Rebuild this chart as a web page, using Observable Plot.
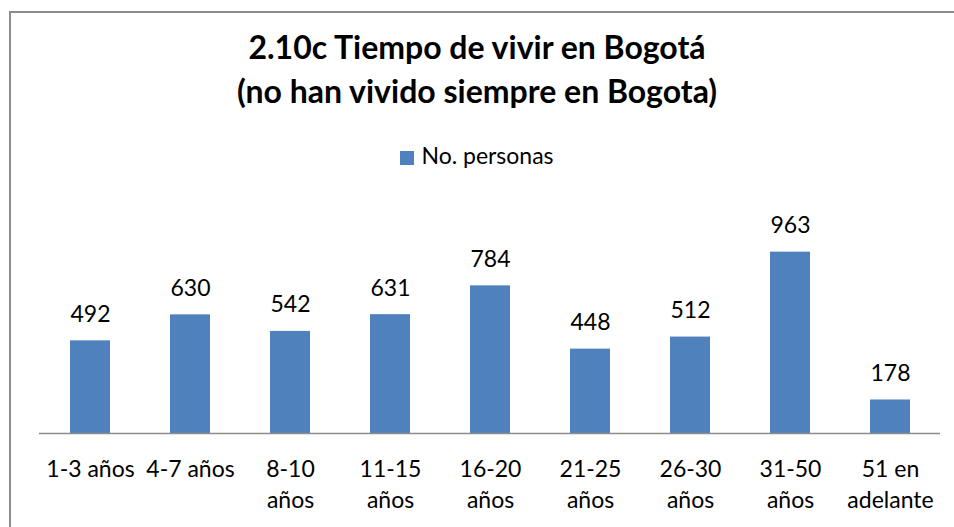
<!DOCTYPE html>
<html>
<head>
<meta charset="utf-8">
<script src="https://cdn.jsdelivr.net/npm/d3@7"></script>
<script src="https://cdn.jsdelivr.net/npm/@observablehq/plot@0.6"></script>
<style>
  html, body { margin: 0; padding: 0; background: #fff; }
  #wrap { position: relative; width: 954px; height: 527px; overflow: hidden; font-family: Lato, "Open Sans", sans-serif; color: #000; }
  #frame { position: absolute; left: 9px; top: 11px; width: 960px; height: 540px; border-left: 2px solid #8c8c8c; border-top: 2px solid #8c8c8c; box-sizing: border-box; }
  #title { position: absolute; left: 0; width: 954px; top: 25px; text-align: center; font-weight: bold; font-size: 32px; line-height: 44px; }
  #legend { position: absolute; left: 0; width: 954px; top: 141px; text-align: center; font-size: 23px; line-height: 28px; }
  #legend .sw { display: inline-block; width: 14px; height: 14px; background: #4F81BD; margin-right: 7px; vertical-align: -1px; }
  #chart { position: absolute; left: 0; top: 0; }
</style>
</head>
<body>
<div id="wrap">
  <div id="frame"></div>
  <div id="title">2.10c Tiempo de vivir en Bogotá<br>(no han vivido siempre en Bogota)</div>
  <div id="legend"><span class="sw"></span>No. personas</div>
  <div id="chart"></div>
</div>
<script>
const categories = ["1-3 años", "4-7 años", "8-10 años", "11-15 años", "16-20 años", "21-25 años", "26-30 años", "31-50 años", "51 en adelante"];
const tickLabels = ["1-3 años", "4-7 años", "8-10\naños", "11-15\naños", "16-20\naños", "21-25\naños", "26-30\naños", "31-50\naños", "51 en\nadelante"];
const values = [492, 630, 542, 631, 784, 448, 512, 963, 178];
const seriesName = "No. personas";

const data = categories.map((c, i) => ({category: c, value: values[i], label: tickLabels[i]}));

const chart = Plot.plot({
  width: 954,
  height: 527,
  marginTop: 207,
  marginBottom: 94,
  marginLeft: 39,
  marginRight: 14,
  style: {fontFamily: "Lato, 'Open Sans', sans-serif", fontSize: "23px", background: "transparent", color: "#000"},
  x: {domain: categories, paddingInner: 0.6, paddingOuter: 0.3, align: 0.5, label: null},
  y: {domain: [0, 1200], axis: null},
  marks: [
    Plot.barY(data, {x: "category", y: "value", fill: "#4F81BD"}),
    Plot.ruleY([0], {stroke: "#8c8c8c", strokeWidth: 1.5}),
    Plot.text(data, {x: "category", y: "value", text: d => String(d.value), lineAnchor: "bottom", dy: -19, fontSize: 23, fill: "#000"}),
    Plot.axisX({
      tickSize: 0,
      tickPadding: 0,
      tickFormat: (d, i) => tickLabels[categories.indexOf(d)],
      fontSize: 23,
      lineHeight: 1.35,
      dy: 21,
      label: null
    })
  ]
});
document.getElementById("chart").appendChild(chart);
</script>
</body>
</html>
